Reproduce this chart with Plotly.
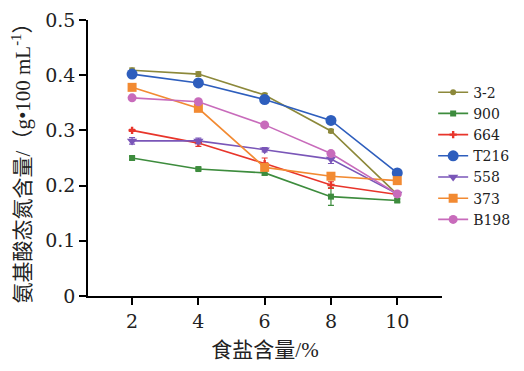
import plotly.graph_objects as go

salt = [2, 4, 6, 8, 10]
names = ["3-2", "900", "664", "T216", "558", "373", "B198"]
v_3_2 = [0.409, 0.402, 0.364, 0.299, 0.184]
v_900 = [0.250, 0.230, 0.223, 0.180, 0.173]
v_664 = [0.300, 0.277, 0.240, 0.201, 0.184]
v_T216 = [0.402, 0.386, 0.356, 0.318, 0.223]
v_558 = [0.281, 0.281, 0.265, 0.248, 0.185]
v_373 = [0.378, 0.340, 0.233, 0.217, 0.209]
v_B198 = [0.359, 0.352, 0.310, 0.258, 0.185]
e_3_2 = [0.004, 0.004, 0.003, 0.003, 0.002]
e_900 = [0.003, 0.002, 0.004, 0.016, 0.003]
e_664 = [0.002, 0.006, 0.010, 0.006, 0.002]
e_T216 = [0.002, 0.003, 0.003, 0.003, 0.003]
e_558 = [0.006, 0.005, 0.004, 0.008, 0.003]
e_373 = [0.003, 0.003, 0.006, 0.004, 0.003]
e_B198 = [0.003, 0.003, 0.003, 0.003, 0.003]

series = [v_3_2, v_900, v_664, v_T216, v_558, v_373, v_B198]
errors = [e_3_2, e_900, e_664, e_T216, e_558, e_373, e_B198]
colors = ["#8c883a", "#3d8c3d", "#e8352b", "#2e5ebd", "#7a56b8", "#f28a32", "#c86bbb"]
symbols = ["circle", "square", "cross", "circle", "triangle-down", "square", "circle"]
sizes = [6, 6, 6, 11, 9, 9, 9]

fig = go.Figure()
for n, v, e, c, s, sz in zip(names, series, errors, colors, symbols, sizes):
    fig.add_trace(go.Scatter(
        x=salt, y=v, name=n, mode="lines+markers",
        line=dict(color=c, width=1.6),
        marker=dict(color=c, symbol=s, size=sz),
        error_y=dict(type="data", array=e, color=c, thickness=1.2, width=3),
    ))

font_main = "Liberation Serif, Times New Roman, Noto Sans CJK SC, serif"
font_num = "DejaVu Serif, Liberation Serif, serif"

# page has an 8px body margin, so the figure is sized to fit the 524x371 window
fig.update_layout(
    width=516, height=363,
    margin=dict(l=80, r=82, t=12, b=75, autoexpand=False),
    paper_bgcolor="white", plot_bgcolor="white",
    font=dict(family=font_main, size=18, color="#222"),
    showlegend=True,
    legend=dict(x=0.975, y=0.795, xanchor="left", yanchor="top",
                font=dict(size=14, family=font_num, color="#222"),
                tracegroupgap=0, itemwidth=30, bgcolor="rgba(0,0,0,0)"),
    xaxis=dict(
        range=[0.67, 11.35], tickvals=salt, ticktext=[str(x) for x in salt],
        showline=True, linecolor="black", linewidth=1.5,
        ticks="outside", ticklen=7, tickcolor="black", tickwidth=1.5,
        showgrid=False, zeroline=False, automargin=False,
        tickfont=dict(size=19, family=font_num),
        title=dict(text="食盐含量/%", font=dict(size=21, family=font_main), standoff=12),
    ),
    yaxis=dict(
        range=[0, 0.5], tickvals=[0, 0.1, 0.2, 0.3, 0.4, 0.5],
        ticktext=["0", "0.1", "0.2", "0.3", "0.4", "0.5"],
        showline=True, linecolor="black", linewidth=1.5,
        ticks="outside", ticklen=7, tickcolor="black", tickwidth=1.5,
        showgrid=False, zeroline=False, automargin=False,
        tickfont=dict(size=19, family=font_num),
        title=dict(text="氨基酸态氮含量/（g•100 mL<sup>-1</sup>）",
                   font=dict(size=21, family=font_main), standoff=14),
    ),
)

fig.write_html("out.html")
